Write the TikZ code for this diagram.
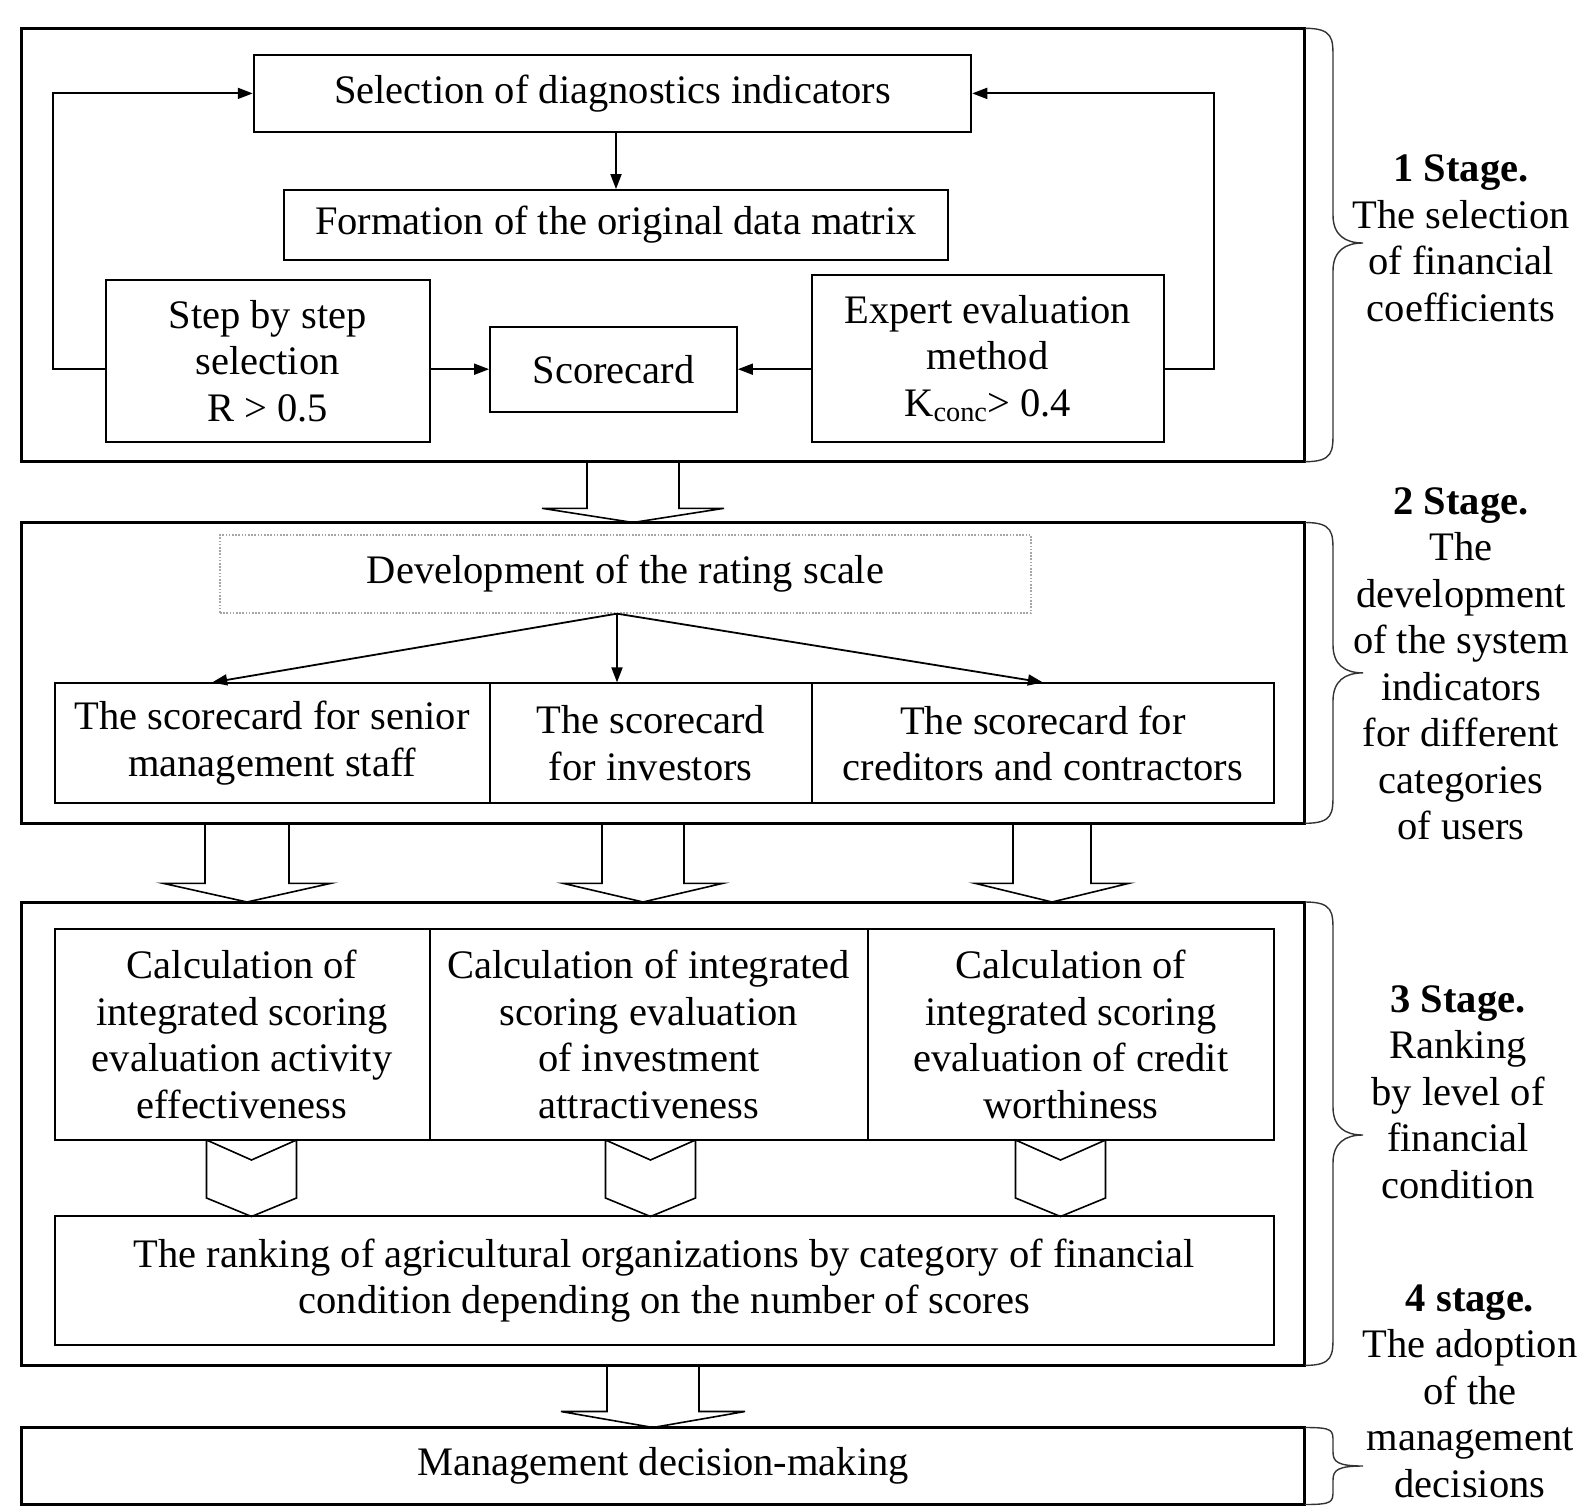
\documentclass[tikz,border=0pt]{standalone}
\usepackage{fontspec}
\setmainfont{Liberation Serif}
\usetikzlibrary{arrows.meta,calc}
\begin{document}
\begin{tikzpicture}[x=1pt,y=-1pt,
  font=\fontsize{40.5}{46.5}\selectfont,
  outerbox/.style={draw, line width=3pt, inner sep=0pt, align=center},
  bx/.style={draw, line width=1.8pt, inner sep=0pt, align=center},
  dotbox/.style={draw=gray!70, line width=1.3pt, dash pattern=on 1.6pt off 1.6pt, inner sep=0pt, align=center},
  conn/.style={line width=1.8pt, -{Triangle[length=15pt,width=11pt]}},
  hollow/.style={line width=1.6pt, line join=miter},
  bracestyle/.style={line width=1.4pt, draw=black!80},
  stagetext/.style={align=center, inner sep=0pt}]
\useasboundingbox (0,0) rectangle (1583,1509);

% outer stage frames
\node[outerbox, minimum width=1283pt, minimum height=433.4pt] (stage1) at (663,245) {};
\node[outerbox, minimum width=1283pt, minimum height=300.8pt] (stage2) at (663,672.9) {};
\node[outerbox, minimum width=1283pt, minimum height=463.4pt] (stage3) at (663,1133.7) {};
\node[outerbox, minimum width=1283pt, minimum height=77pt] (mgmt) at (663,1466) {Management decision-making};

% stage 1
\node[bx, minimum width=717.7pt, minimum height=76.7pt] (sel) at (612.5,93.4) {Selection of diagnostics indicators};
\node[bx, minimum width=664pt, minimum height=70pt] (form) at (616,225) {Formation of the original data matrix};
\node[bx, minimum width=324pt, minimum height=161.7pt] (step) at (267.6,360.9) {Step by step\\selection\\R > 0.5};
\node[bx, minimum width=247pt, minimum height=85pt] (score) at (613.5,369.2) {Scorecard};
\node[bx, minimum width=352pt, minimum height=166.7pt] (expert) at (987.7,358.4) {Expert evaluation\\method\\K\textsubscript{conc}> 0.4};

\draw[conn] (sel.south -| form.north) -- (form.north);
\draw[conn] (step.east |- score.west) -- (score.west);
\draw[conn] (expert.west |- score.east) -- (score.east);
\draw[conn] (step.west |- score.west) -- ++(-52,0) |- (sel.west);
\draw[conn] (expert.east |- score.east) -- ++(49,0) |- (sel.east);

% stage 2
\node[dotbox, minimum width=811pt, minimum height=78pt] (dev) at (625.5,574) {Development of the rating scale};
\node[bx, minimum width=435.2pt, minimum height=120pt] (r1) at (272.2,743.3) {The scorecard for senior\\management staff};
\node[bx, minimum width=321.9pt, minimum height=120pt] (r2) at (650.75,743.3) {The scorecard\\for investors};
\node[bx, minimum width=462.3pt, minimum height=120pt] (r3) at (1042.85,743.3) {The scorecard for\\creditors and contractors};
\coordinate (devo) at ([xshift=-8.5pt]dev.south);
\draw[conn] (devo) -- ([xshift=-60pt]r1.north);
\draw[conn] (devo) -- (devo |- r2.north);
\draw[conn] (devo) -- (r3.north);

% stage 3
\node[bx, minimum width=375pt, minimum height=211pt] (c1) at (242.1,1034.5) {Calculation of\\integrated scoring\\evaluation activity\\effectiveness};
\node[bx, minimum width=438.4pt, minimum height=211pt] (c2) at (648.8,1034.5) {Calculation of integrated\\scoring evaluation\\of investment\\attractiveness};
\node[bx, minimum width=406pt, minimum height=211pt] (c3) at (1071,1034.5) {Calculation of\\integrated scoring\\evaluation of credit\\worthiness};
\node[bx, minimum width=1219.4pt, minimum height=129.3pt] (rank) at (664.3,1280.65) {The ranking of agricultural organizations by category of financial\\condition depending on the number of scores};

% hollow block arrows between stages
\newcommand{\blockarrow}[6]{\draw[hollow] (#1-#5,#2) -- (#1-#5,#3) -- (#1-#6,#3) -- (#1,#4) -- (#1+#6,#3) -- (#1+#5,#3) -- (#1+#5,#2);}
\blockarrow{633}{461.7}{508.3}{522.5}{46}{91}
\blockarrow{247}{823.3}{883.3}{902}{42}{84}
\blockarrow{643}{823.3}{883.3}{902}{41}{80}
\blockarrow{1052}{823.3}{883.3}{902}{39}{77}
\blockarrow{653}{1365.4}{1411.5}{1427.5}{46}{92}

% chevrons
\newcommand{\chevronshape}[1]{\draw[hollow] (#1-45,1140) -- (#1,1160) -- (#1+45,1140) -- (#1+45,1198) -- (#1,1216.5) -- (#1-45,1198) -- cycle;}
\chevronshape{251.5}
\chevronshape{650.5}
\chevronshape{1060.5}

% braces
\newcommand{\stagebrace}[3]{\draw[bracestyle] (1305,#1) .. controls (1333,#1) and (1333,#1+10) .. (1333,#1+30) -- (1333,#3-28) .. controls (1333,#3-8) and (1345,#3) .. (1363,#3) .. controls (1345,#3) and (1333,#3+8) .. (1333,#3+28) -- (1333,#2-30) .. controls (1333,#2-10) and (1333,#2) .. (1305,#2);}
\stagebrace{28.3}{461.7}{243}
\stagebrace{522.5}{823.3}{672.9}
\stagebrace{902}{1365.4}{1135}
\draw[bracestyle] (1305,1427.5) .. controls (1333,1427.5) and (1333,1430) .. (1333,1442) -- (1333,1452) .. controls (1333,1462) and (1338,1466) .. (1363,1466) .. controls (1338,1466) and (1333,1470) .. (1333,1480) -- (1333,1490) .. controls (1333,1502) and (1333,1504.5) .. (1305,1504.5);

% stage labels
\node[stagetext] (s1) at (1461,238.3) {\textbf{1 Stage.}\\The selection\\of financial\\coefficients};
\node[stagetext] (s2) at (1461,664) {\textbf{2 Stage.}\\The\\development\\of the system\\indicators\\for different\\categories\\of users};
\node[stagetext] (s3) at (1458,1091.8) {\textbf{3 Stage.}\\Ranking\\by level of\\financial\\condition};
\node[stagetext] (s4) at (1470,1391) {\textbf{4 stage.}\\The adoption\\of the\\management\\decisions};
\end{tikzpicture}
\end{document}
